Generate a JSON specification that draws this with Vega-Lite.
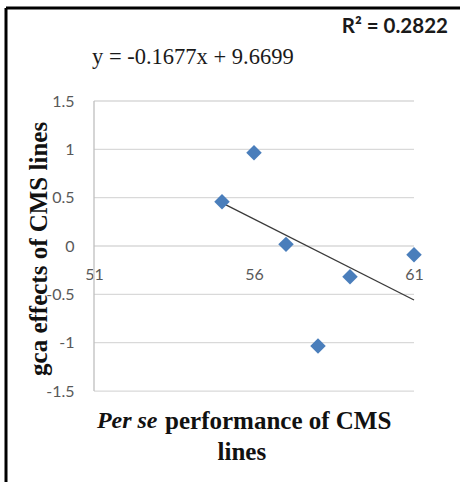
{
  "$schema": "https://vega.github.io/schema/vega-lite/v6.json",
  "autosize": {"type": "none"},
  "padding": {"left": 6, "top": 8, "right": 0, "bottom": 0},
  "width": 454,
  "height": 474,
  "background": "white",
  "config": {"view": {"stroke": null}},
  "datasets": {
    "points": [
      {"perse": 55.0, "gca": 0.458},
      {"perse": 56.0, "gca": 0.965},
      {"perse": 57.0, "gca": 0.017},
      {"perse": 58.0, "gca": -1.034},
      {"perse": 59.0, "gca": -0.317},
      {"perse": 61.0, "gca": -0.09}
    ],
    "grid": [
      {"v": 1.5}, {"v": 1}, {"v": 0.5}, {"v": 0}, {"v": -0.5}, {"v": -1}, {"v": -1.5}
    ],
    "one": [{}]
  },
  "layer": [
    {
      "data": {"name": "grid"},
      "mark": {"type": "rule", "color": "#d9d9d9", "strokeWidth": 1.3},
      "encoding": {
        "y": {"field": "v", "type": "quantitative", "title": null,
              "scale": {"domain": [-2.441, 2.462], "nice": false, "zero": false},
              "axis": {"orient": "left", "offset": -88, "domain": false, "ticks": false, "grid": false,
                       "values": [-1.5, -1, -0.5, 0, 0.5, 1, 1.5], "labelExpr": "'' + datum.value",
                       "labelFont": "Lato", "labelFontSize": 16, "labelColor": "#595959", "labelPadding": 20}},
        "x": {"datum": 51, "type": "quantitative", "title": null,
              "scale": {"domain": [48.25, 62.4375], "nice": false, "zero": false},
              "axis": {"orient": "bottom", "offset": -236, "domain": false, "ticks": false, "grid": false,
                       "values": [51, 56, 61], "labelFont": "Lato", "labelFontSize": 16,
                       "labelColor": "#595959", "labelPadding": 20}},
        "x2": {"datum": 61}
      }
    },
    {
      "data": {"name": "one"},
      "mark": {"type": "rule", "color": "#bfbfbf", "strokeWidth": 1.3},
      "encoding": {
        "x": {"datum": 51, "type": "quantitative", "title": null},
        "y": {"datum": -1.5, "type": "quantitative", "title": null},
        "y2": {"datum": 1.5}
      }
    },
    {
      "data": {"name": "points"},
      "transform": [{"regression": "gca", "on": "perse"}],
      "mark": {"type": "line", "color": "#3a3a3a", "strokeWidth": 1.3},
      "encoding": {
        "x": {"field": "perse", "type": "quantitative", "title": null},
        "y": {"field": "gca", "type": "quantitative", "title": null}
      }
    },
    {
      "data": {"name": "points"},
      "mark": {"type": "point", "shape": "diamond", "filled": true, "color": "#4a7ebb", "size": 240, "opacity": 1},
      "encoding": {
        "x": {"field": "perse", "type": "quantitative", "title": null},
        "y": {"field": "gca", "type": "quantitative", "title": null}
      }
    },
    {
      "data": {"name": "one"},
      "mark": {"type": "text", "text": "y = -0.1677x + 9.6699", "font": "Liberation Serif", "fontSize": 22.5, "color": "#1a1a1a", "align": "center", "baseline": "middle"},
      "encoding": {
        "x": {"datum": 54.09, "type": "quantitative", "title": null},
        "y": {"datum": 1.955, "type": "quantitative", "title": null}
      }
    },
    {
      "data": {"name": "one"},
      "mark": {"type": "text", "text": "R² = 0.2822", "font": "Lato", "fontWeight": "bold", "fontSize": 20.5, "color": "#1a1a1a", "align": "right", "baseline": "middle"},
      "encoding": {
        "x": {"datum": 62.06, "type": "quantitative", "title": null},
        "y": {"datum": 2.27, "type": "quantitative", "title": null}
      }
    },
    {
      "data": {"name": "one"},
      "mark": {"type": "text", "text": "gca effects of CMS lines", "font": "Liberation Serif", "fontWeight": "bold", "fontSize": 25, "color": "#111111", "align": "center", "baseline": "middle", "angle": 270},
      "encoding": {
        "x": {"datum": 49.27, "type": "quantitative", "title": null},
        "y": {"datum": -0.03, "type": "quantitative", "title": null}
      }
    },
    {
      "data": {"name": "one"},
      "mark": {"type": "text", "text": "Per se", "font": "Liberation Serif", "fontWeight": "bold", "fontStyle": "italic", "fontSize": 24, "color": "#111111", "align": "left", "baseline": "middle"},
      "encoding": {
        "x": {"datum": 51.09, "type": "quantitative", "title": null},
        "y": {"datum": -1.81, "type": "quantitative", "title": null}
      }
    },
    {
      "data": {"name": "one"},
      "mark": {"type": "text", "text": "performance of CMS", "font": "Liberation Serif", "fontWeight": "bold", "fontSize": 25, "color": "#111111", "align": "left", "baseline": "middle"},
      "encoding": {
        "x": {"datum": 53.22, "type": "quantitative", "title": null},
        "y": {"datum": -1.81, "type": "quantitative", "title": null}
      }
    },
    {
      "data": {"name": "one"},
      "mark": {"type": "text", "text": "lines", "font": "Liberation Serif", "fontWeight": "bold", "fontSize": 25, "color": "#111111", "align": "center", "baseline": "middle"},
      "encoding": {
        "x": {"datum": 55.62, "type": "quantitative", "title": null},
        "y": {"datum": -2.13, "type": "quantitative", "title": null}
      }
    },
    {
      "data": {"name": "one"},
      "mark": {"type": "rule", "color": "#000000", "strokeWidth": 3},
      "encoding": {
        "x": {"datum": 48.25, "type": "quantitative", "title": null},
        "y": {"datum": -2.441, "type": "quantitative", "title": null},
        "y2": {"datum": 2.462}
      }
    },
    {
      "data": {"name": "one"},
      "mark": {"type": "rule", "color": "#000000", "strokeWidth": 3},
      "encoding": {
        "y": {"datum": 2.462, "type": "quantitative", "title": null},
        "x": {"datum": 48.25, "type": "quantitative", "title": null},
        "x2": {"datum": 62.4375}
      }
    }
  ]
}
